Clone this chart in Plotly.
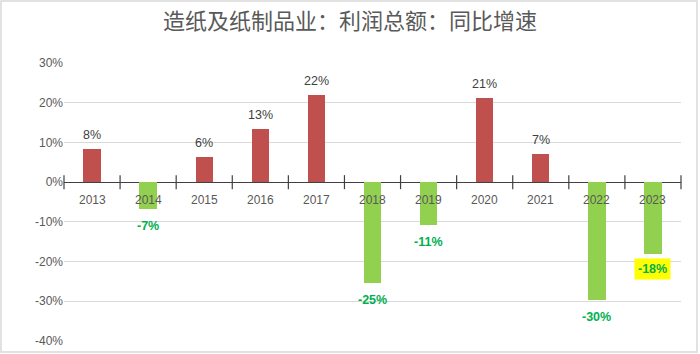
import plotly.graph_objects as go

years = ["2013", "2014", "2015", "2016", "2017", "2018", "2019", "2020", "2021", "2022", "2023"]
growth = [8.4, -6.7, 6.4, 13.4, 21.9, -25.4, -10.9, 21.1, 7.0, -29.8, -18.1]
labels = ["8%", "-7%", "6%", "13%", "22%", "-25%", "-11%", "21%", "7%", "-30%", "-18%"]
yticks = [-40, -30, -20, -10, 0, 10, 20, 30]

RED = "#C0504D"
GREEN = "#92D050"
FONT = "Liberation Sans, Arial, sans-serif"

xs = list(range(len(years)))
colors = [RED if v >= 0 else GREEN for v in growth]

fig = go.Figure()
fig.add_trace(go.Bar(
    x=xs, y=growth, marker=dict(color=colors, line=dict(width=0)),
    width=0.31, hoverinfo="skip", showlegend=False,
))
# tick marks on the zero axis between categories
bounds = [i - 0.5 for i in range(len(years) + 1)]
fig.add_trace(go.Scatter(
    x=bounds, y=[0] * len(bounds), mode="markers",
    marker=dict(symbol="line-ns-open", size=10, line=dict(width=1.2, color="#404040"), color="#404040"),
    hoverinfo="skip", showlegend=False, cliponaxis=False,
))

annotations = []
# category labels next to the zero axis
for i, y in enumerate(years):
    annotations.append(dict(x=i, y=0, text=y, showarrow=False, yanchor="top", yshift=-9,
                            font=dict(family=FONT, size=12, color="#595959")))
for i, (v, t) in enumerate(zip(growth, labels)):
    if v >= 0:
        annotations.append(dict(x=i, y=v, text=t, showarrow=False, yanchor="bottom", yshift=5,
                                font=dict(family=FONT, size=12.5, color="#404040")))
    else:
        a = dict(x=i, y=v, text="<b>" + t + "</b>", showarrow=False, yanchor="top", yshift=-8,
                 font=dict(family=FONT, size=12.5, color="#00B050"))
        if t == "-18%":
            a.update(bgcolor="#FFFF00", borderpad=3, yshift=-4)
        annotations.append(a)

fig.update_layout(
    width=700, height=354,
    margin=dict(l=64, r=19, t=63, b=13, autoexpand=False),
    paper_bgcolor="white", plot_bgcolor="white",
    title=dict(text="造纸及纸制品业：利润总额：同比增速", x=0.5, xanchor="center", y=0.94, yanchor="middle",
               font=dict(family="Noto Sans CJK SC", size=22, color="#595959")),
    xaxis=dict(range=[-0.5, len(years) - 0.5], showticklabels=False, showgrid=False, zeroline=False,
               showline=False, ticks="", automargin=False),
    yaxis=dict(range=[-40, 30], tickvals=yticks, ticktext=[f"{v}%" for v in yticks],
               showgrid=True, gridcolor="#D9D9D9", gridwidth=1, zeroline=True, zerolinecolor="#404040",
               zerolinewidth=1.2, tickfont=dict(family=FONT, size=12, color="#595959"), ticks="",
               showline=False, automargin=False, ticklabeloverflow="allow"),
    annotations=annotations,
    shapes=[dict(type="rect", xref="paper", yref="paper", x0=-63/617, x1=1 + 16/617, y0=-11/278, y1=1 + 62/278,
                 line=dict(color="#D9D9D9", width=1.5))],
    bargap=0,
)

fig.write_html("out.html")
